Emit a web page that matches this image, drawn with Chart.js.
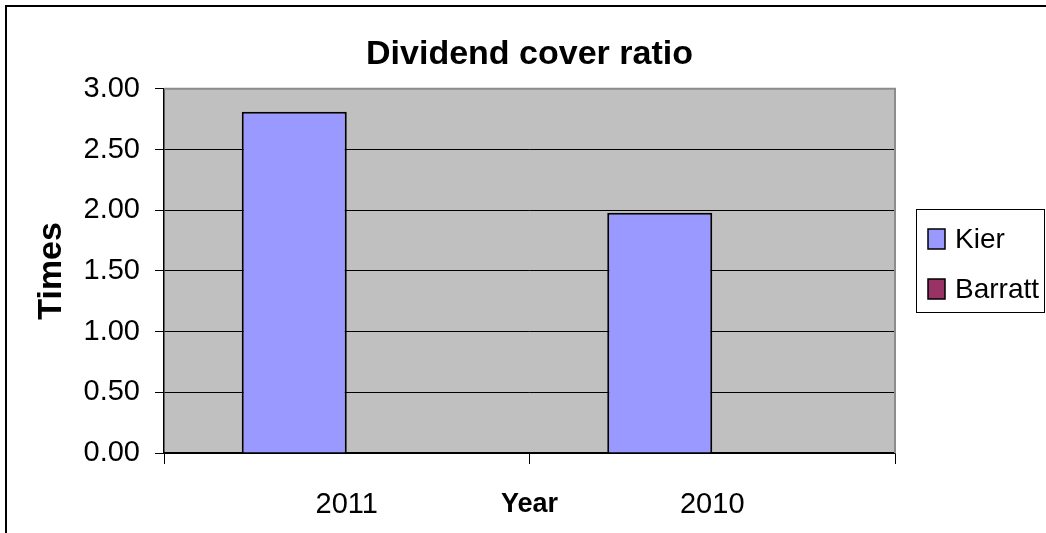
<!DOCTYPE html>
<html>
<head>
<meta charset="utf-8">
<script src="https://cdn.jsdelivr.net/npm/chart.js@4.4.1/dist/chart.umd.min.js"></script>
<style>
  body { margin: 0; background: #fff; }
  #wrap { width: 1046px; height: 533px; }
</style>
</head>
<body>
<div id="wrap"><canvas id="grafica" width="1046" height="533"></canvas></div>
<script type="text/javascript">

    // categorias y series
    var years = ['2011', '2010'];
    var kier = [2.81, 1.98];
    var barratt = [0, 0];
    var seriesNames = ['Kier', 'Barratt'];
    var yMin = 0, yMax = 3, yStep = 0.5;

    var fuente = 'Liberation Sans, Arial, sans-serif';

    // fondo gris del area de trazado, borde gris arriba/derecha, marco y leyenda
    var plotArea = {
        id: 'plotArea',
        beforeDraw: function(chart) {
            var a = chart.chartArea, ctx = chart.ctx;
            ctx.save();
            ctx.fillStyle = '#C0C0C0';
            ctx.fillRect(a.left, a.top, a.right - a.left, a.bottom - a.top);
            ctx.restore();
        },
        beforeDatasetsDraw: function(chart) {
            var a = chart.chartArea, ctx = chart.ctx;
            ctx.save();
            ctx.strokeStyle = '#8c8c8c';
            ctx.lineWidth = 2;
            ctx.beginPath();
            ctx.moveTo(a.left, a.top);
            ctx.lineTo(a.right, a.top);
            ctx.lineTo(a.right, a.bottom);
            ctx.stroke();
            ctx.restore();
        },
        afterDraw: function(chart) {
            var ctx = chart.ctx;
            ctx.save();
            // marco exterior del grafico
            ctx.strokeStyle = '#000';
            ctx.lineWidth = 2;
            ctx.strokeRect(6, 6, chart.width + 20, chart.height + 20);

            // leyenda
            ctx.lineWidth = 1;
            ctx.strokeRect(916.5, 209.5, 128, 103);
            ctx.font = '28px ' + fuente;
            ctx.textBaseline = 'middle';
            ctx.textAlign = 'left';
            chart.data.datasets.forEach(function(ds, i) {
                var y = 239 + i * 50;
                ctx.fillStyle = ds.backgroundColor;
                ctx.fillRect(928, y - 10, 17, 20);
                ctx.strokeStyle = '#000';
                ctx.lineWidth = 1.5;
                ctx.strokeRect(928, y - 10, 17, 20);
                ctx.fillStyle = '#000';
                ctx.fillText(ds.label, 955, y + 1);
            });
            ctx.restore();
        }
    };

    var canvas = document.getElementById('grafica');
    var context = canvas.getContext('2d');

    var datos = {
        labels: years,
        datasets: [{
            label: seriesNames[0],
            backgroundColor: '#9999FF',
            borderColor: '#000',
            borderWidth: 2,
            data: kier
        }, {
            label: seriesNames[1],
            backgroundColor: '#993366',
            borderColor: '#000',
            borderWidth: 0,
            data: barratt
        }]
    };

    window.bar = new Chart(context, {
        type: 'bar',
        data: datos,
        plugins: [plotArea],
        options: {
            responsive: false,
            animation: false,
            layout: { padding: { left: 0, right: 151, top: 0, bottom: 0 } },
            datasets: {
                bar: { categoryPercentage: 0.5746, barPercentage: 1.0 }
            },
            plugins: {
                legend: { display: false },
                tooltip: { enabled: false },
                title: {
                    display: true,
                    text: 'Dividend cover ratio',
                    color: '#000',
                    fullSize: false,
                    font: { family: fuente, size: 34, weight: 'bold' },
                    padding: { top: 34, bottom: 14 }
                }
            },
            scales: {
                x: {
                    afterFit: function(scale) { scale.height = 80; },
                    grid: {
                        offset: true,
                        drawOnChartArea: false,
                        drawTicks: true,
                        tickLength: 11,
                        color: '#000'
                    },
                    border: { color: '#000', width: 1.5 },
                    ticks: {
                        color: '#000',
                        padding: 24,
                        font: { family: fuente, size: 29 }
                    },
                    title: {
                        display: true,
                        text: 'Year',
                        color: '#000',
                        font: { family: fuente, size: 27, weight: 'bold' },
                        padding: { top: 0, bottom: 12 }
                    }
                },
                y: {
                    min: yMin,
                    max: yMax,
                    afterFit: function(scale) { scale.width = 164; },
                    grid: {
                        color: function(c) { return c.tick && c.tick.value === yMax ? 'rgba(0,0,0,0)' : '#000'; },
                        tickColor: '#000',
                        tickLength: 9,
                        lineWidth: 1
                    },
                    border: { color: '#000', width: 1.5 },
                    ticks: {
                        stepSize: yStep,
                        color: '#000',
                        padding: 15,
                        font: { family: fuente, size: 29 },
                        callback: function(v) { return Number(v).toFixed(2); }
                    },
                    title: {
                        display: true,
                        text: 'Times',
                        color: '#000',
                        font: { family: fuente, size: 34, weight: 'bold' },
                        padding: { top: 31, bottom: 0 }
                    }
                }
            }
        }
    });

</script>
</body>
</html>
